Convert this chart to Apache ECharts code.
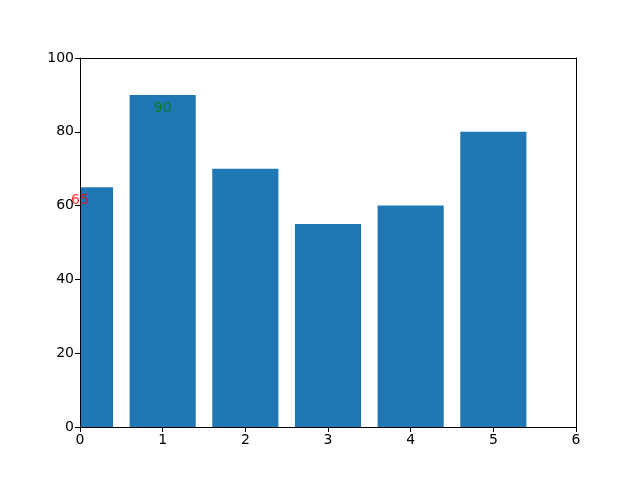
<!DOCTYPE html>
<html><head><meta charset="utf-8">
<script src="https://cdn.jsdelivr.net/npm/echarts@6/dist/echarts.min.js"></script>
<style>html,body{margin:0;padding:0;background:#fff}#c{width:640px;height:480px}</style>
</head><body><div id="c"></div>
<script>
const positions = [0, 1, 2, 3, 4, 5];
const values = [65, 90, 70, 55, 60, 80];
const annotations = [
  { x: 0, y: 60, text: '65', color: '#ff0000' },
  { x: 1, y: 85, text: '90', color: '#008000' }
];
const barWidthUnits = 0.8;

const font = 'DejaVu Sans';
const chart = echarts.init(document.getElementById('c'), null, {renderer: 'canvas'});
const axisCommon = {
  axisLine: {show: true, onZero: false, lineStyle: {color: '#000', width: 1}},
  axisTick: {show: true, inside: false, length: 5, lineStyle: {color: '#000'}},
  axisLabel: {color: '#000', fontFamily: font, fontSize: 14, margin: 6},
  splitLine: {show: false}
};
const frameAxis = {
  axisLine: {show: true, onZero: false, lineStyle: {color: '#000', width: 1}},
  axisTick: {show: false}, axisLabel: {show: false}, splitLine: {show: false}
};
chart.setOption({
  animation: false,
  backgroundColor: '#fff',
  grid: {left: 80, right: 64, top: 58, bottom: 53, containLabel: false},
  xAxis: [
    Object.assign({type: 'value', min: 0, max: 6, interval: 1, position: 'bottom', z: 10}, axisCommon),
    Object.assign({type: 'value', min: 0, max: 6, position: 'top', z: 10}, frameAxis)
  ],
  yAxis: [
    Object.assign({type: 'value', min: 0, max: 100, interval: 20, position: 'left', z: 10}, axisCommon),
    Object.assign({type: 'value', min: 0, max: 100, position: 'right', z: 10}, frameAxis)
  ],
  series: [
    {
      type: 'custom',
      xAxisIndex: 0, yAxisIndex: 0,
      data: positions.map((p, i) => [p, values[i]]),
      renderItem: function (params, api) {
        const x = api.value(0), v = api.value(1);
        const p0 = api.coord([x - barWidthUnits / 2, v]);
        const p1 = api.coord([x + barWidthUnits / 2, 0]);
        const shape = echarts.graphic.clipRectByRect(
          {x: p0[0], y: p0[1], width: p1[0] - p0[0], height: p1[1] - p0[1]},
          {x: params.coordSys.x, y: params.coordSys.y, width: params.coordSys.width, height: params.coordSys.height}
        );
        return shape && {type: 'rect', shape: shape, style: {fill: '#1f77b4'}};
      },
      z: 1
    },
    {
      type: 'scatter',
      xAxisIndex: 0, yAxisIndex: 0,
      symbolSize: 0,
      clip: false,
      z: 20,
      data: annotations.map(a => ({
        value: [a.x, a.y],
        label: {show: true, position: 'top', distance: 0, offset: [0, 2], formatter: a.text, color: a.color, fontFamily: font, fontSize: 14}
      }))
    }
  ]
});
</script></body></html>
